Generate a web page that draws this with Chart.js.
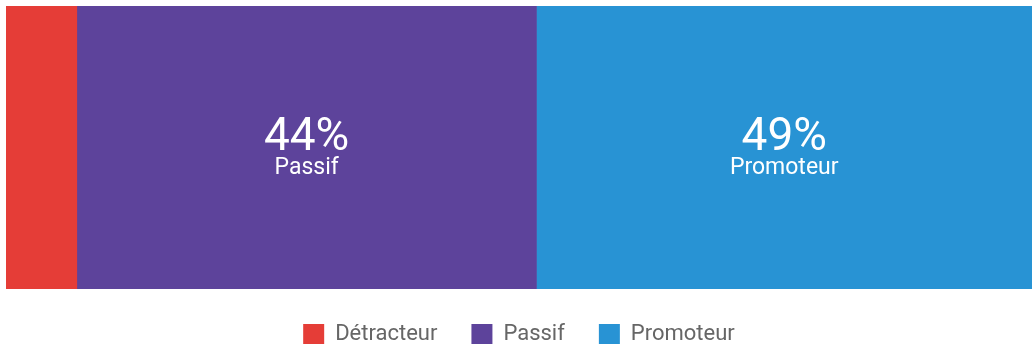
<!DOCTYPE html>
<html>
<head>
<meta charset="utf-8">
<script src="https://cdn.jsdelivr.net/npm/chart.js@4"></script>
<style>
  html, body { margin: 0; padding: 0; background: #ffffff; overflow: hidden; }
  #wrap { position: relative; width: 1032px; height: 355px; }
</style>
</head>
<body>
<div id="wrap"><canvas id="c"></canvas></div>
<script>
// Data
const categories = ['NPS'];
const seriesNames = ['Détracteur', 'Passif', 'Promoteur'];
const seriesValues = [6.9, 44.8, 48.3];
const valueLabels = ['7%', '44%', '49%'];
const seriesColors = ['#e53d37', '#5d439b', '#2893d4'];

const segmentLabels = {
  id: 'segmentLabels',
  afterDatasetsDraw(chart) {
    const ctx = chart.ctx;
    ctx.save();
    ctx.fillStyle = '#ffffff';
    ctx.textAlign = 'center';
    ctx.textBaseline = 'middle';
    chart.data.datasets.forEach((ds, i) => {
      const meta = chart.getDatasetMeta(i);
      meta.data.forEach((el) => {
        const w = Math.abs(el.x - el.base);
        if (w < 150) return;
        const cx = (el.x + el.base) / 2;
        const cy = el.y;
        ctx.font = '400 46px Roboto, "Noto Sans", sans-serif';
        ctx.fillText(valueLabels[i], cx, cy - 9);
        ctx.font = '400 23px Roboto, "Noto Sans", sans-serif';
        ctx.fillText(seriesNames[i], cx, cy + 21);
      });
    });
    ctx.restore();
  }
};

new Chart(document.getElementById('c'), {
  type: 'bar',
  data: {
    labels: categories,
    datasets: seriesNames.map((name, i) => ({
      label: name,
      data: [seriesValues[i]],
      backgroundColor: seriesColors[i],
      borderWidth: 0,
      barPercentage: 1,
      categoryPercentage: 1
    }))
  },
  options: {
    indexAxis: 'y',
    responsive: true,
    maintainAspectRatio: false,
    animation: false,
    layout: { padding: { left: 6, top: 6, right: 0, bottom: 0 } },
    scales: {
      x: { stacked: true, min: 0, max: 100, display: false },
      y: { stacked: true, display: false }
    },
    plugins: {
      tooltip: { enabled: false },
      legend: {
        position: 'bottom',
        labels: {
          boxWidth: 21,
          boxHeight: 20,
          padding: 34,
          color: '#666666',
          font: { family: 'Roboto, "Noto Sans", sans-serif', size: 22 }
        }
      }
    }
  },
  plugins: [segmentLabels]
});
</script>
</body>
</html>
